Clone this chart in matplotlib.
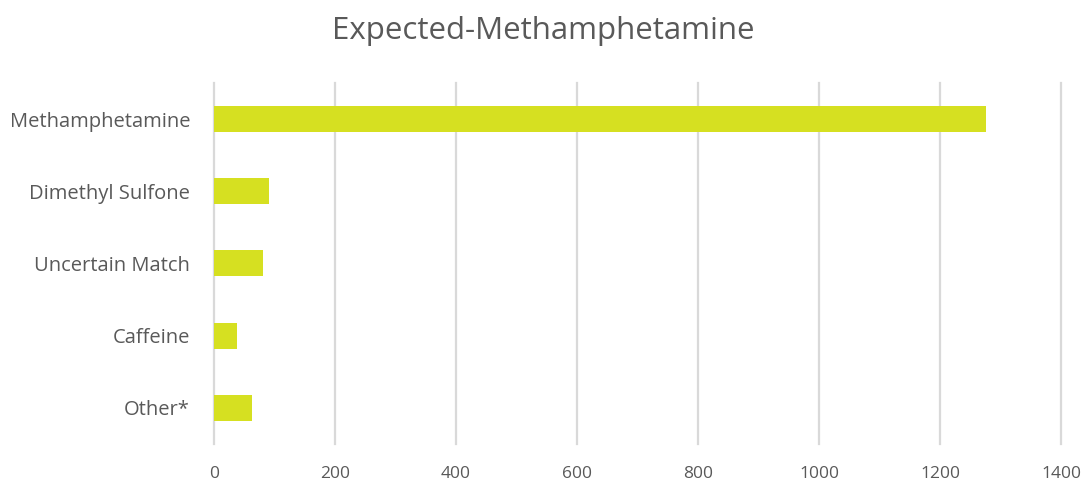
import matplotlib.pyplot as plt

categories = ["Methamphetamine", "Dimethyl Sulfone", "Uncertain Match", "Caffeine", "Other*"]
counts = [1276, 91, 81, 39, 63]
xticks = [0, 200, 400, 600, 800, 1000, 1200, 1400]

plt.rcParams['font.family'] = ['Open Sans', 'DejaVu Sans']
text_color = '#595959'

fig = plt.figure(figsize=(10.86, 4.87), dpi=100)
ax = fig.add_axes([0.1968, 0.0883, 0.7802, 0.7413])

ypos = list(range(len(categories)))[::-1]
ax.barh(ypos, counts, height=0.36, color='#d6e021', zorder=3)

ax.set_xlim(0, 1400)
ax.set_ylim(-0.5, len(categories) - 0.5)
ax.set_xticks(xticks)
ax.set_xticklabels([str(t) for t in xticks], fontsize=12.5, color=text_color)
ax.set_yticks(ypos)
ax.set_yticklabels(categories, fontsize=14.5, color=text_color)
ax.tick_params(axis='x', length=0, pad=16)
ax.tick_params(axis='y', length=0, pad=17)

ax.grid(axis='x', color='#d9d9d9', linewidth=1.6, zorder=0)
# keep the edge gridlines (0 and 1400) at full width
for gl in ax.get_xgridlines():
    gl.set_clip_on(False)
for s in ax.spines.values():
    s.set_visible(False)

fig.suptitle("Expected-Methamphetamine", fontsize=22.5, color=text_color, y=0.968)

fig.savefig("out.png", dpi=100)
